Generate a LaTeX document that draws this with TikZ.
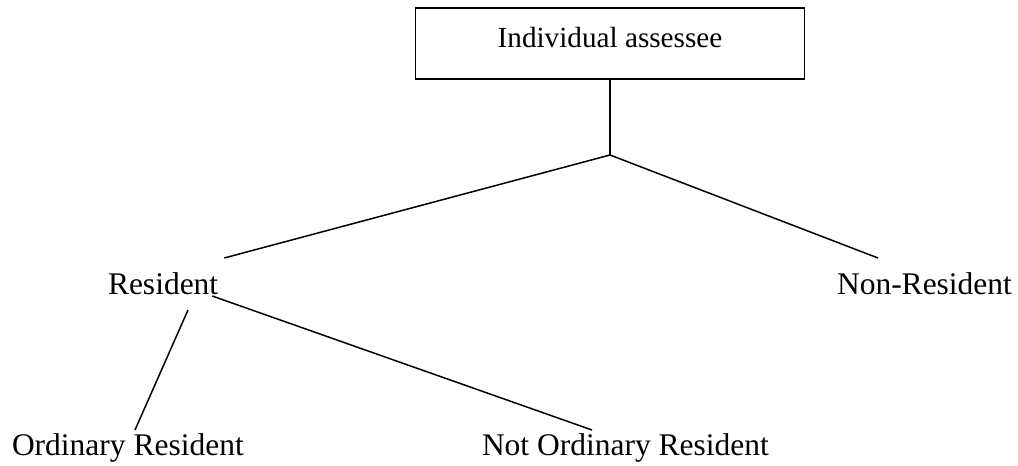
\documentclass[tikz,border=0pt]{standalone}
\usepackage{fontspec}
\setmainfont{Liberation Serif}
\begin{document}
\begin{tikzpicture}[x=0.5pt,y=-0.5pt,line width=0.75pt,
  lbl/.style={inner sep=0pt,outer sep=0pt,anchor=base west,font=\fontsize{15.75pt}{18pt}\selectfont},
  topbox/.style={draw,rectangle,inner sep=0pt,outer sep=0pt,minimum width=194.5pt,
    text height=19.5pt,text depth=16pt,anchor=north,font=\fontsize{14.6pt}{17pt}\selectfont}]
\useasboundingbox (0,0) rectangle (1018,466);
\node[topbox] (box) at (610,8) {Individual assessee};
\coordinate (j) at (610,155);
\node[lbl] (res) at (108,294) {Resident};
\node[lbl] (nonres) at (837,294) {Non-Resident};
\node[lbl] (ord) at (12,455) {Ordinary Resident};
\node[lbl] (notord) at (482,455) {Not Ordinary Resident};
\draw (box.south) -- (j);
\draw (j) -- ([shift={(6,-36)}]res.base east);
\draw (j) -- ([shift={(41,-36)}]nonres.base west);
\draw ([shift={(-6,2)}]res.base east) -- ([shift={(110,-25)}]notord.base west);
\draw ([shift={(80,16)}]res.base west) -- ([shift={(123,-25)}]ord.base west);
\end{tikzpicture}
\end{document}
